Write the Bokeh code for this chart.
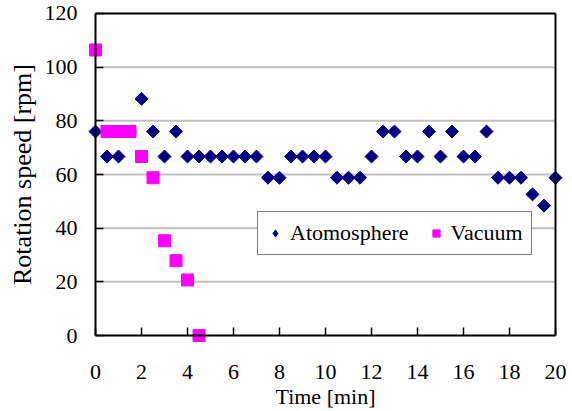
import numpy as np
from bokeh.plotting import figure
from bokeh.models import (ColumnDataSource, Legend, LegendItem, FixedTicker, Range1d,
                          LinearAxis)
from bokeh.embed import file_html
from bokeh.resources import INLINE

# Data
atm_time = [0, 0.5, 1, 1.5, 2, 2.5, 3, 3.5, 4, 4.5, 5, 5.5, 6, 6.5, 7, 7.5, 8, 8.5, 9, 9.5,
            10, 10.5, 11, 11.5, 12, 12.5, 13, 13.5, 14, 14.5, 15, 15.5, 16, 16.5, 17, 17.5,
            18, 18.5, 19, 19.5, 20]
atm_speed = [76.0, 66.7, 66.7, 76.0, 88.2, 76.0, 66.7, 76.0, 66.7, 66.7, 66.7, 66.7, 66.7,
             66.7, 66.7, 58.8, 58.8, 66.7, 66.7, 66.7, 66.7, 58.8, 58.8, 58.8, 66.7, 76.0,
             76.0, 66.7, 66.7, 76.0, 66.7, 76.0, 66.7, 66.7, 76.0, 58.8, 58.8, 58.8, 52.6,
             48.4, 58.8]
vac_time = [0, 0.5, 1, 1.5, 2, 2.5, 3, 3.5, 4, 4.5]
vac_speed = [106.4, 76.0, 76.0, 76.0, 66.7, 58.8, 35.3, 27.9, 20.7, 0.0]

x_ticks = [0, 2, 4, 6, 8, 10, 12, 14, 16, 18, 20]
y_ticks = [0, 20, 40, 60, 80, 100, 120]
grid_values = [20, 40, 60, 80, 100]

X_MIN, X_MAX = 0, 20
Y_MIN, Y_MAX = 0, 120

FONT = "Liberation Serif"

# frame is padded by a few pixels so markers sitting on the axes are not clipped
PAD = 8
plot_w, plot_h = 460, 323
x_pad = PAD * (X_MAX - X_MIN) / plot_w
y_pad = PAD * (Y_MAX - Y_MIN) / plot_h

p = figure(width=572, height=411, output_backend="svg", toolbar_location=None,
           x_range=Range1d(X_MIN - x_pad, X_MAX + x_pad),
           y_range=Range1d(Y_MIN - y_pad, Y_MAX + y_pad),
           min_border_left=95 - PAD, min_border_right=572 - 555 - PAD,
           min_border_top=13 - PAD, min_border_bottom=411 - 336 - PAD)
p.background_fill_color = "white"
p.border_fill_color = "white"
p.outline_line_color = None
p.xgrid.visible = False
p.ygrid.visible = False

# horizontal grid lines (drawn underneath the axes' tick marks)
p.multi_line(xs=[[X_MIN, X_MAX] for _ in grid_values], ys=[[g, g] for g in grid_values],
             line_color="#c0c0c0", line_width=2, level="underlay")

# main axes: tick labels and titles only (they sit at the padded frame edge)
for ax, ticks in ((p.xaxis[0], x_ticks), (p.yaxis[0], y_ticks)):
    ax.ticker = FixedTicker(ticks=ticks)
    ax.axis_line_color = None
    ax.major_tick_line_color = None
    ax.minor_tick_line_color = None
    ax.major_tick_in = 0
    ax.major_tick_out = 0
    ax.major_label_text_font = FONT
    ax.major_label_text_font_size = "22px"
    ax.major_label_text_color = "black"
    ax.axis_label_text_font = FONT
    ax.axis_label_text_font_style = "normal"
    ax.axis_label_text_color = "black"

p.xaxis.axis_label = "Time [min]"
p.xaxis.axis_label_text_font_size = "22px"
p.xaxis.major_label_standoff = 29 - PAD
p.xaxis.axis_label_standoff = 2

p.yaxis.axis_label = "Rotation speed [rpm]"
p.yaxis.axis_label_text_font_size = "26px"
p.yaxis.major_label_standoff = 18 - PAD
p.yaxis.axis_label_standoff = 5


def line_axis(ticks, loc, bnds, tick_in):
    return LinearAxis(ticker=FixedTicker(ticks=ticks), fixed_location=loc, bounds=bnds,
                      axis_line_color="black", axis_line_width=2,
                      major_tick_in=tick_in, major_tick_out=0,
                      major_tick_line_color="black", major_tick_line_width=1.5,
                      minor_tick_line_color=None, major_label_text_font_size="0px",
                      major_label_text_alpha=0, major_label_standoff=0)


# plot box lines with inside ticks, placed at the data limits
p.add_layout(line_axis(x_ticks, Y_MIN, (X_MIN, X_MAX), 8), "below")
p.add_layout(line_axis(y_ticks, X_MIN, (Y_MIN, Y_MAX), 8), "left")
p.add_layout(line_axis([], Y_MAX, (X_MIN, X_MAX), 0), "above")
p.add_layout(line_axis([], X_MAX, (Y_MIN, Y_MAX), 0), "right")

atm_src = ColumnDataSource(dict(x=atm_time, y=atm_speed))
vac_src = ColumnDataSource(dict(x=vac_time, y=vac_speed))

r_atm = p.scatter("x", "y", source=atm_src, marker="square", angle=np.pi / 4, size=9.2,
                  fill_color="#000080", line_color="#000080")
r_vac = p.scatter("x", "y", source=vac_src, marker="square", size=12,
                  fill_color="#ff00ff", line_color="#ff00ff")

# hidden diamond renderer on the same data, used only for the legend key
# (legend keys do not apply marker rotation)
r_atm_key = p.scatter("x", "y", source=atm_src, marker="diamond", size=16,
                      fill_color="#000080", line_color="#000080", visible=False)

legend = Legend(items=[LegendItem(label="Atomosphere", renderers=[r_atm_key]),
                       LegendItem(label="Vacuum", renderers=[r_vac])],
                orientation="horizontal", location=(162 + PAD, 80 + PAD))
legend.label_text_font = FONT
legend.label_text_font_size = "22px"
legend.label_text_color = "black"
legend.border_line_color = "black"
legend.border_line_width = 1
legend.background_fill_color = "white"
legend.background_fill_alpha = 1
legend.padding = 8
legend.margin = 0
legend.spacing = 18
legend.glyph_width = 18
legend.glyph_height = 22
legend.label_height = 22
legend.label_standoff = 6
p.add_layout(legend, "center")

open("out.html", "w").write(file_html(p, INLINE))
